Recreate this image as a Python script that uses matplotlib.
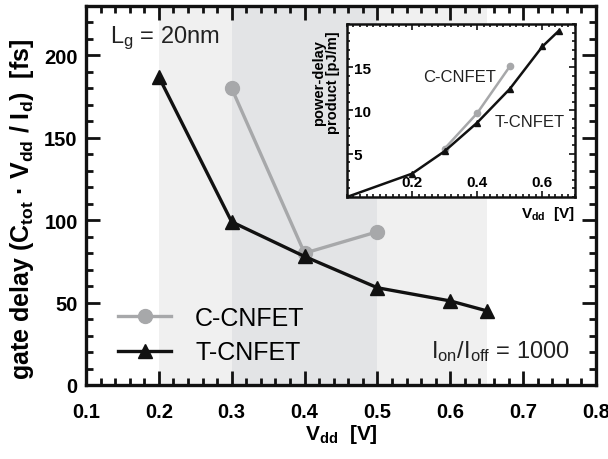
import matplotlib
matplotlib.use("Agg")
import matplotlib.pyplot as plt
from matplotlib.ticker import MultipleLocator

plt.rcParams['font.family'] = ['Liberation Sans', 'DejaVu Sans']
plt.rcParams['mathtext.default'] = 'regular'

# gate delay vs supply voltage
vdd_c = [0.3, 0.4, 0.5]
delay_c = [180, 80, 93]
vdd_t = [0.2, 0.3, 0.4, 0.5, 0.6, 0.65]
delay_t = [187, 99, 78, 59, 51, 45]

# power-delay product vs supply voltage (inset)
pdp_vdd_c = [0.3, 0.4, 0.5]
pdp_c = [5.6, 9.7, 15.1]
pdp_vdd_t = [0.0, 0.2, 0.3, 0.4, 0.5, 0.6, 0.65]
pdp_t = [0.0, 2.7, 5.3, 8.6, 12.5, 17.4, 19.2]

GRAY = '#a7a8aa'
BLACK = '#111111'

fig = plt.figure(figsize=(6.08, 4.6), dpi=100)
ax = fig.add_axes([0.1414, 0.1609, 0.8389, 0.8239])

ax.axvspan(0.2, 0.65, color='#f0f0f0', zorder=0, lw=0)
ax.axvspan(0.3, 0.5, color='#e3e4e6', zorder=0, lw=0)

ax.plot(vdd_c, delay_c, color=GRAY, lw=2.4, marker='o', ms=10,
        mfc=GRAY, mec=GRAY, label='C-CNFET', zorder=3)
ax.plot(vdd_t, delay_t, color=BLACK, lw=2.4, marker='^', ms=10.5,
        mfc=BLACK, mec=BLACK, label='T-CNFET', zorder=4)

ax.set_xlim(0.1, 0.8)
ax.set_ylim(0, 230)
ax.xaxis.set_major_locator(MultipleLocator(0.1))
ax.xaxis.set_minor_locator(MultipleLocator(0.02))
ax.yaxis.set_major_locator(MultipleLocator(50))
ax.yaxis.set_minor_locator(MultipleLocator(10))
ax.tick_params(which='both', direction='in', top=True, right=True,
               width=2.0, color=BLACK)
ax.tick_params(which='major', length=10, labelsize=14.5)
ax.tick_params(axis='x', pad=12)
ax.tick_params(axis='y', pad=6)
ax.tick_params(which='minor', length=5)
for lbl in ax.get_xticklabels() + ax.get_yticklabels():
    lbl.set_fontweight('bold')
for sp in ax.spines.values():
    sp.set_linewidth(2.4)
    sp.set_color(BLACK)

ax.set_xlabel('V$_{dd}$  [V]', fontsize=15, fontweight='bold', labelpad=1)
ax.set_ylabel('gate delay (C$_{tot}$ \u00b7 V$_{dd}$ / I$_{d}$)  [fs]',
              fontsize=18, fontweight='bold')
ax.yaxis.set_label_coords(-0.098, 0.466)

ax.text(0.133, 211, 'L$_{g}$ = 20nm', fontsize=17, va='center', ha='left',
        color='#222222')
ax.text(0.764, 21, 'I$_{on}$/I$_{off}$ = 1000', fontsize=17, va='center',
        ha='right', color='#222222')

leg = ax.legend(loc='lower left', bbox_to_anchor=(0.018, -0.005),
                frameon=False, fontsize=18, handlelength=2.15,
                handletextpad=0.95, labelspacing=0.42, borderaxespad=0.5)

# inset
ins = fig.add_axes([0.5707, 0.5696, 0.375, 0.3761])
ins.plot(pdp_vdd_c, pdp_c, color=GRAY, lw=1.8, marker='o', ms=4.5,
         mfc=GRAY, mec=GRAY, zorder=3)
ins.plot(pdp_vdd_t, pdp_t, color=BLACK, lw=1.8, marker='^', ms=4.5,
         mfc=BLACK, mec=BLACK, zorder=4, clip_on=True)
ins.set_xlim(0.0, 0.7)
ins.set_ylim(0, 20)
ins.set_xticks([0.2, 0.4, 0.6])
ins.set_yticks([5, 10, 15])
ins.xaxis.set_minor_locator(MultipleLocator(0.02))
ins.yaxis.set_minor_locator(MultipleLocator(1))
ins.tick_params(which='both', direction='in', top=True, right=True,
                width=1.2, color=BLACK)
ins.tick_params(which='major', length=4, labelsize=11)
ins.tick_params(which='minor', length=2.5)
ins.tick_params(axis='x', pad=-6)
ins.tick_params(axis='y', pad=-5)
for lbl in ins.get_xticklabels():
    lbl.set_fontweight('bold')
    lbl.set_va('bottom')
for lbl in ins.get_yticklabels():
    lbl.set_fontweight('bold')
    lbl.set_ha('left')
for sp in ins.spines.values():
    sp.set_linewidth(1.8)
    sp.set_color(BLACK)
ins.set_xlabel('V$_{dd}$  [V]', fontsize=11, fontweight='bold', labelpad=2,
               loc='right')
ins.set_ylabel('power-delay\nproduct [pJ/m]', fontsize=10.5,
               fontweight='bold', linespacing=1.0)
ins.yaxis.set_label_coords(-0.03, 0.665)
ins.text(0.234, 13.9, 'C-CNFET', fontsize=12, color='#222222', va='center')
ins.text(0.454, 8.7, 'T-CNFET', fontsize=12, color='#222222', va='center')

fig.savefig('out.png', dpi=100)
